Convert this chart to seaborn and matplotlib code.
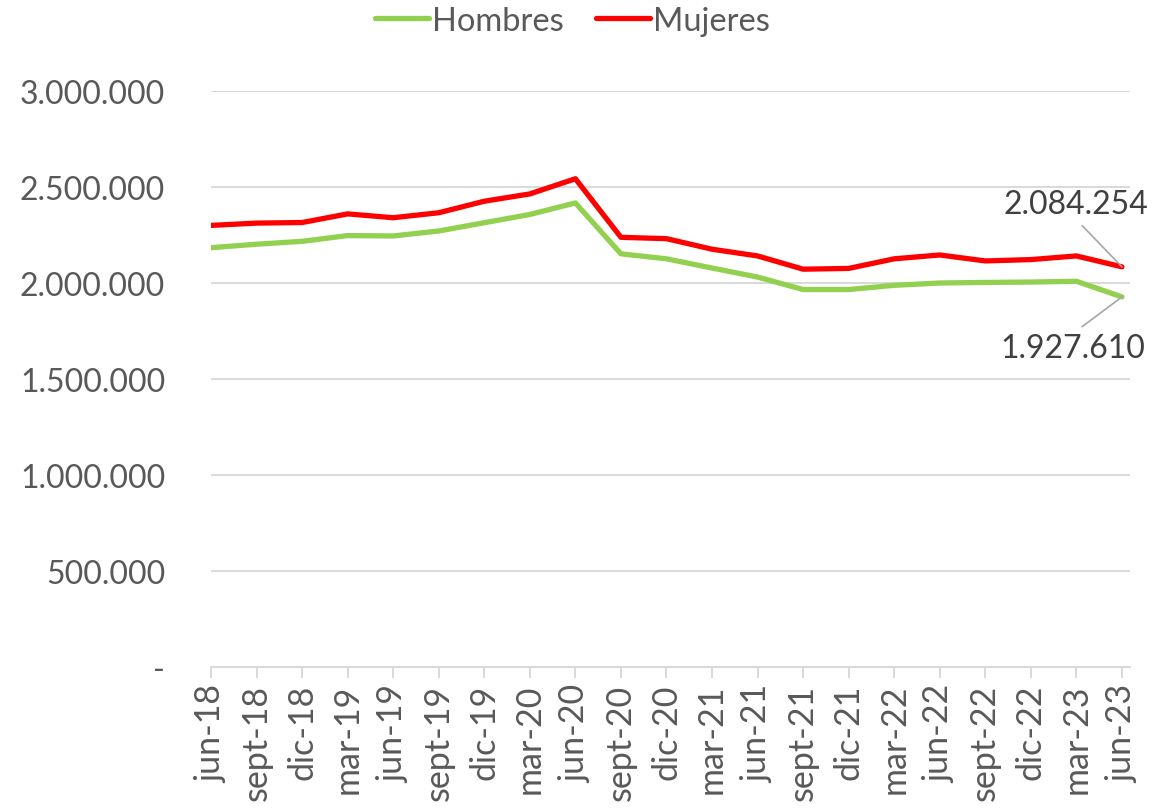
import matplotlib
matplotlib.use("Agg")
import matplotlib.pyplot as plt
import seaborn as sns
import pandas as pd

periodos = ["jun-18", "sept-18", "dic-18", "mar-19", "jun-19", "sept-19", "dic-19",
            "mar-20", "jun-20", "sept-20", "dic-20", "mar-21", "jun-21", "sept-21",
            "dic-21", "mar-22", "jun-22", "sept-22", "dic-22", "mar-23", "jun-23"]
hombres = [2184000, 2202000, 2217000, 2247000, 2245000, 2271000, 2314000,
           2357000, 2417000, 2152000, 2126000, 2078000, 2031000, 1966000,
           1966000, 1988000, 2000000, 2003000, 2005000, 2009000, 1927610]
mujeres = [2300000, 2312000, 2315000, 2360000, 2340000, 2366000, 2426000,
           2464000, 2543000, 2238000, 2231000, 2176000, 2141000, 2072000,
           2076000, 2126000, 2146000, 2115000, 2122000, 2141000, 2084254]
series = ["Hombres", "Mujeres"]
colores = ["#92D050", "#FF0000"]
yticks = [0, 500000, 1000000, 1500000, 2000000, 2500000, 3000000]


def fmt(v):
    if v == 0:
        return "-"
    return f"{int(v):,}".replace(",", ".")


df = pd.concat([
    pd.DataFrame({"periodo": periodos, "valor": hombres, "serie": series[0]}),
    pd.DataFrame({"periodo": periodos, "valor": mujeres, "serie": series[1]}),
], ignore_index=True)

sns.set_theme(style="white")
plt.rcParams["font.family"] = ["Lato", "DejaVu Sans"]
gray = "#595959"

fig = plt.figure(figsize=(11.52, 8.12), dpi=100)
ax = fig.add_axes([0.1832, 0.1773, 0.7978, 0.7094])

sns.lineplot(data=df, x="periodo", y="valor", hue="serie", palette=colores,
             linewidth=3.8, ax=ax, sort=False, legend=True)

ax.set_ylim(0, 3000000)
ax.set_xlim(0, 20.18)
ax.set_yticks(yticks)
ax.set_yticklabels([fmt(v) for v in yticks], fontsize=23, color=gray)
ax.set_xticks(range(len(periodos)))
ax.set_xticklabels(periodos, rotation=90, fontsize=24.5, color=gray)
ax.set_xlabel("")
ax.set_ylabel("")
ax.grid(axis="y", color="#D9D9D9", linewidth=1.4)
ax.set_axisbelow(True)
for s in ["top", "right", "left"]:
    ax.spines[s].set_visible(False)
ax.spines["bottom"].set_color("#D9D9D9")
ax.spines["bottom"].set_linewidth(1.4)
ax.tick_params(axis="x", length=8, width=1.4, color="#D9D9D9", pad=4, bottom=True)
ax.tick_params(axis="y", length=0, pad=33)

# data labels for last points
last = len(periodos) - 1
ax.annotate(fmt(mujeres[-1]), xy=(last, mujeres[-1]), xytext=(-33, 45),
            textcoords="offset points", ha="center", va="center",
            fontsize=23, color="#404040",
            arrowprops=dict(arrowstyle="-", color="#A6A6A6", lw=1.2,
                            relpos=(0.5, 0.0), shrinkA=3, shrinkB=0))
ax.annotate(fmt(hombres[-1]), xy=(last, hombres[-1]), xytext=(-35, -37),
            textcoords="offset points", ha="center", va="center",
            fontsize=23, color="#404040",
            arrowprops=dict(arrowstyle="-", color="#A6A6A6", lw=1.2,
                            relpos=(0.5, 1.0), shrinkA=4, shrinkB=0))

handles, labels = ax.get_legend_handles_labels()
ax.legend(handles=handles, labels=labels, loc="upper center",
          bbox_to_anchor=(0.497, 1.008), bbox_transform=fig.transFigure,
          ncol=2, frameon=False, fontsize=23.5, handlelength=1.65,
          handletextpad=0.1, columnspacing=1.0, labelcolor=gray,
          borderaxespad=0.0)

fig.savefig("out.png", dpi=100)
